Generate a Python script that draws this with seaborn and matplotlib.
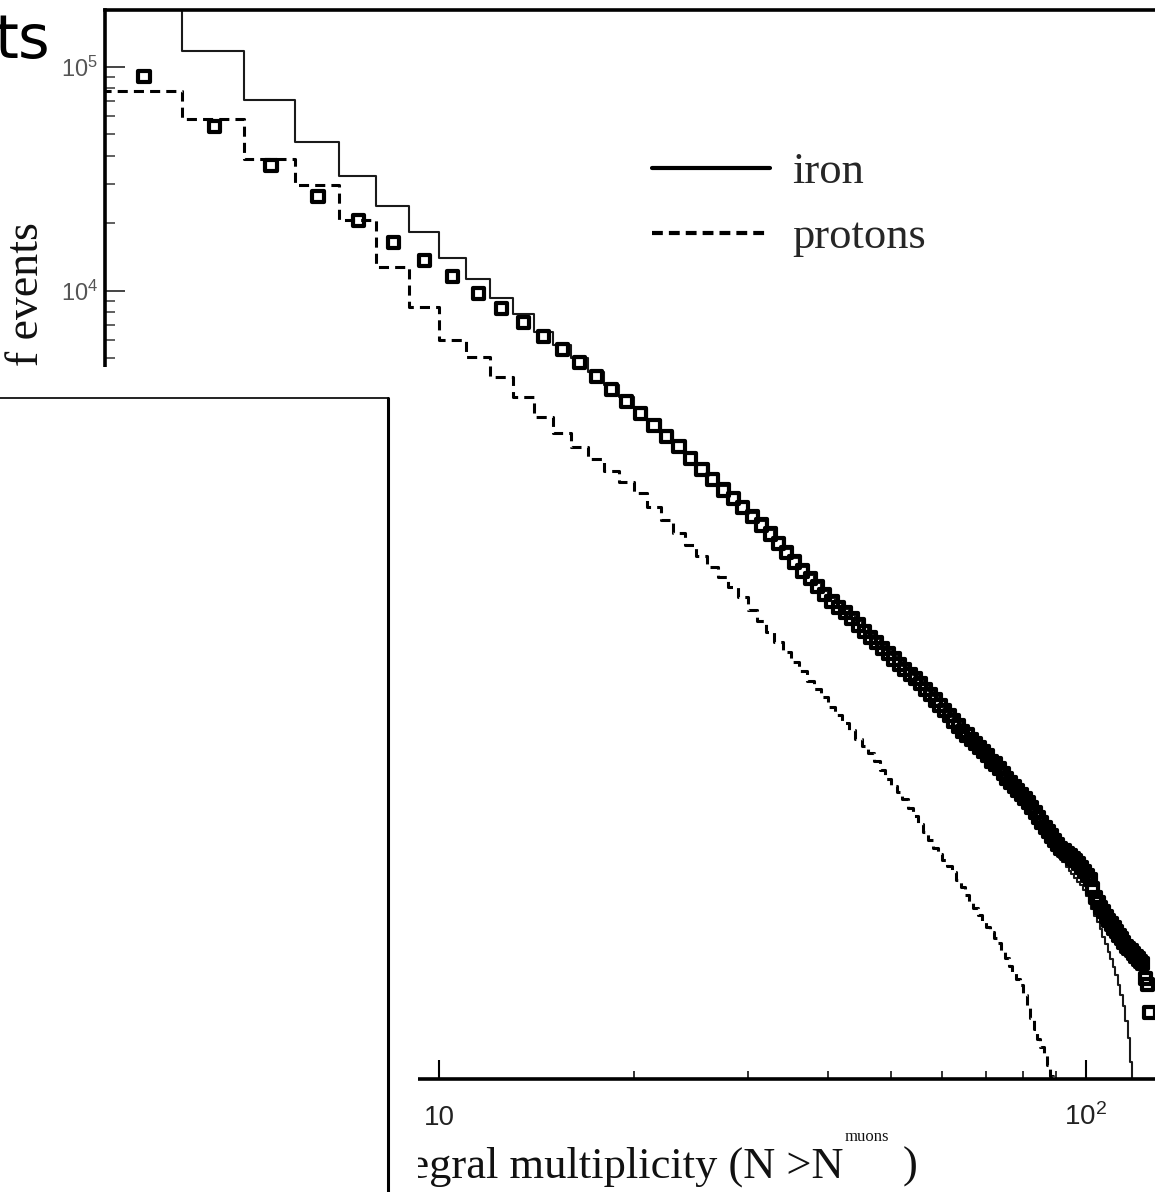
import matplotlib
matplotlib.use("Agg")
import matplotlib.pyplot as plt
from matplotlib.lines import Line2D
from matplotlib.patches import Rectangle
from matplotlib.ticker import FixedLocator, FixedFormatter, LogLocator, NullFormatter
import seaborn as sns

# Simulated integral muon multiplicity, iron primaries (bin lower edges 3..118)
multiplicity_iron = list(range(3, 119))
iron_counts = [
    200000, 117000, 71000, 46300, 32600, 23900, 18200, 14000, 11300, 9270,
    7900, 6540, 5710, 5010, 4340, 3810, 3360, 2960, 2640, 2340,
    2110, 1880, 1670, 1500, 1350, 1240, 1130, 1020, 936, 853,
    776, 703, 640, 583, 538, 496, 458, 427, 402, 380,
    357, 335, 314, 295, 279, 263, 250, 236, 224, 212,
    202, 192, 183, 173, 163, 155, 147, 139, 132, 125,
    119, 112, 108, 103, 99.0, 95.1, 90.2, 86.7, 81.9, 78.7,
    74.9, 71.3, 67.2, 64.4, 61.1, 58.7, 56.3, 53.6, 51.3, 48.4,
    45.5, 43.2, 40.6, 38.3, 36.2, 34.2, 32.4, 30.6, 29.3, 28.1,
    26.8, 25.8, 24.8, 23.9, 23.0, 22.2, 21.1, 19.9, 18.6, 17.4,
    16.2, 15.2, 14.1, 13.1, 12.1, 11.2, 10.4, 9.6, 8.8, 8.0,
    7.2, 6.4, 5.5, 4.6, 3.6, 2.0,
]

# Simulated integral muon multiplicity, proton primaries (bin lower edges 3..89)
multiplicity_protons = list(range(3, 90))
proton_counts = [
    78100, 58400, 38600, 29500, 20700, 12800, 8490, 6030, 5080, 4110,
    3340, 2720, 2310, 2010, 1770, 1570, 1400, 1250, 1085, 946,
    830, 732, 654, 586, 528, 477, 428, 377, 335, 300,
    270, 244, 221, 200, 182, 167, 153, 139, 128, 118,
    109, 100, 93, 86, 79.3, 72.2, 66.3, 61.8, 57.8, 53.7,
    49.2, 45.2, 41.6, 38.3, 35.3, 32.6, 30.5, 28.7, 27.1, 25.5,
    23.5, 21.7, 20.1, 18.7, 17.5, 16.4, 15.3, 14.4, 13.7, 12.9,
    12.2, 11.3, 10.5, 9.71, 9.04, 8.48, 7.96, 7.15, 6.32, 5.65,
    5.09, 4.58, 4.20, 3.88, 3.49, 3.12, 2.0,
]

# Measured integral multiplicity, plotted at bin centres (3.5 .. 125.5)
data_multiplicity = [n + 0.5 for n in range(3, 126)]
data_counts = [
    90200, 54300, 36100, 26300, 20500, 16400, 13600, 11600, 9750, 8300,
    7200, 6230, 5440, 4770, 4130, 3630, 3200, 2820, 2510, 2230,
    2010, 1790, 1590, 1430, 1290, 1180, 1080, 985, 900, 820,
    746, 676, 615, 561, 517, 477, 440, 411, 387, 365,
    343, 322, 302, 284, 268, 253, 240, 227, 215, 204,
    194, 185, 176, 166, 157, 149, 141, 134, 127, 120,
    114, 108, 104, 99.3, 95.2, 91.4, 87.6, 84.2, 79.5, 77.2,
    73.4, 69.9, 66.5, 63.8, 61.1, 58.7, 56.3, 54.1, 51.8, 49.4,
    46.9, 44.5, 42.3, 40.3, 38.5, 36.8, 35.2, 33.6, 32.5, 31.6,
    30.8, 30.0, 29.2, 28.5, 27.8, 26.6, 25.5, 24.5, 23.5, 21.4,
    19.5, 18.6, 17.7, 16.9, 16.1, 15.5, 14.9, 14.3, 13.8, 13.3,
    12.8, 12.3, 11.8, 11.6, 11.3, 11.0, 10.7, 10.4, 10.1, 9.9,
    8.5, 8.0, 6.0,
]

legend_labels = ["iron", "protons"]
x_tick_values = [10, 100]
x_tick_labels = ["10", r"$\mathdefault{10^{2}}$"]

W, H = 1155, 1192

sns.set_theme(style="white")
plt.rcParams["font.family"] = ["Liberation Sans", "DejaVu Sans"]

fig = plt.figure(figsize=(W / 100, H / 100), dpi=100)
fig.patch.set_facecolor("white")

# axes frame in pixel terms: left 105, top 10, bottom 1079, right beyond the canvas
ax = fig.add_axes([105 / W, 1 - 1079 / H, (1200 - 105) / W, (1079 - 10) / H])
ax.set_facecolor("white")
ax.set_xscale("log")
ax.set_yscale("log")
ax.set_xlim(3.046, 150.1)
ax.set_ylim(3.03, 1.79e5)

sns.lineplot(x=multiplicity_iron, y=iron_counts, drawstyle="steps-post",
             color="#1a1a1a", linewidth=1.5, estimator=None, sort=False, ax=ax)
sns.lineplot(x=multiplicity_protons, y=proton_counts, drawstyle="steps-post",
             color="black", linewidth=2.2, linestyle=(0, (3.3, 2.0)),
             estimator=None, sort=False, ax=ax)
sns.scatterplot(x=data_multiplicity, y=data_counts, marker="s", s=64,
                facecolor="none", edgecolor="black", linewidth=3.0,
                ax=ax, zorder=3)

# legend
handles = [
    Line2D([], [], color="black", lw=3.0),
    Line2D([], [], color="black", lw=3.0, linestyle=(0, (2.6, 1.45))),
]
ax.legend(handles, legend_labels, loc="upper left",
          bbox_to_anchor=(652 / W, 1 - 152 / H), bbox_transform=fig.transFigure,
          frameon=False, prop={"family": "Liberation Serif", "size": 32},
          handlelength=2.66, handletextpad=0.5, labelspacing=0.56,
          borderpad=0, borderaxespad=0)

# ticks
ax.xaxis.set_major_locator(FixedLocator(x_tick_values))
ax.xaxis.set_major_formatter(FixedFormatter(x_tick_labels))
ax.xaxis.set_minor_locator(LogLocator(base=10, subs=range(2, 10), numticks=50))
ax.xaxis.set_minor_formatter(NullFormatter())
ax.yaxis.set_major_locator(LogLocator(base=10, numticks=20))
ax.yaxis.set_minor_locator(LogLocator(base=10, subs=range(2, 10), numticks=50))
ax.yaxis.set_minor_formatter(NullFormatter())

ax.tick_params(axis="x", which="major", direction="in", bottom=True, top=False,
               length=13.5, width=1.5, color="black", labelsize=20,
               labelcolor="#222222", pad=33)
ax.tick_params(axis="x", which="minor", direction="in", bottom=True, top=False,
               length=6, width=1.3, color="#222222")
ax.tick_params(axis="y", which="major", direction="in", left=True, right=False,
               length=14.4, width=1.4, color="#444444", labelsize=17,
               labelcolor="#555555", pad=5)
ax.tick_params(axis="y", which="minor", direction="in", left=True, right=False,
               length=7, width=1.2, color="#444444")
for lbl in ax.get_xticklabels():
    lbl.set_verticalalignment("baseline")

for side in ["left", "top", "bottom", "right"]:
    ax.spines[side].set_color("black")
    ax.spines[side].set_linewidth(2.6)

# axis titles
serif = ["Liberation Serif", "DejaVu Serif"]
fig.text(27 / W, 1 - 222 / H, "Number of events", rotation=90, ha="center",
         va="top", family=serif, size=33, color="#111111")
fig.text(844 / W, 1 - 1178 / H, "Integral multiplicity (N >N", ha="right",
         va="baseline", family=serif, size=32, color="#111111")
fig.text(845 / W, 1 - 1141 / H, "muons", ha="left", va="baseline",
         family=serif, size=12, color="#111111")
fig.text(903 / W, 1 - 1178 / H, ")", ha="left", va="baseline",
         family=serif, size=32, color="#111111")

fig.text(50 / W, 1 - 58 / H, "ts", ha="right", va="baseline",
         family=["DejaVu Sans"], size=44, color="black")

# blank panel over the lower-left corner, with its frame
fig.add_artist(Rectangle((0, 0), 418 / W, 1 - 367 / H, transform=fig.transFigure,
                         facecolor="white", edgecolor="none", zorder=20))
fig.add_artist(Line2D([0, 388 / W], [1 - 398 / H, 1 - 398 / H],
                      transform=fig.transFigure, color="#222222", lw=1.4, zorder=21))
fig.add_artist(Line2D([388 / W, 388 / W], [0, 1 - 398 / H],
                      transform=fig.transFigure, color="black", lw=2.2, zorder=21))

fig.savefig("out.png", dpi=100, facecolor="white")
